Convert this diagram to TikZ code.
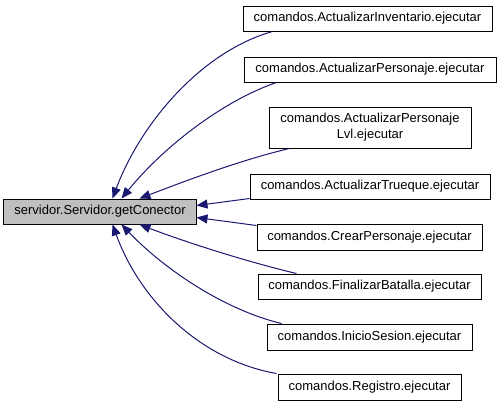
\documentclass[tikz,border=0pt]{standalone}
\usepackage{fontspec}
\setmainfont{Liberation Sans}
\usetikzlibrary{arrows.meta}
\definecolor{edgeblue}{HTML}{191970}
\definecolor{mainfill}{HTML}{BFBFBF}
\tikzset{
  box/.style={draw=black, line width=1bp, fill=white, inner sep=0pt, align=center,
    font=\fontsize{13bp}{16bp}\selectfont},
  mainbox/.style={box, fill=mainfill},
  edge/.style={draw=edgeblue, line width=1bp, -{Triangle[length=11bp,width=9bp]}}
}
\newcommand{\bx}[6]{% name, x1,y1,x2,y2, text
  \node[box, minimum width=#4bp-#2bp, minimum height=#5bp-#3bp] (#1) at ({(#2+#4)/2},{(#3+#5)/2}) {#6};}
\begin{document}
\begin{tikzpicture}[x=1bp,y=-1bp]
\useasboundingbox (0,0) rectangle (501,408);
\node[mainbox, minimum width=192bp, minimum height=25bp] (main) at (100,211.5) {servidor.Servidor.getConector};
\bx{n1}{243}{6}{492}{31}{comandos.ActualizarInventario.ejecutar}
\bx{n2}{244}{57}{496}{82}{comandos.ActualizarPersonaje.ejecutar}
\bx{n3}{269}{107}{471}{148}{comandos.ActualizarPersonaje\\Lvl.ejecutar}
\bx{n4}{250}{174}{490}{199}{comandos.ActualizarTrueque.ejecutar}
\bx{n5}{257}{224}{482}{250}{comandos.CrearPersonaje.ejecutar}
\bx{n6}{258}{274}{481}{299}{comandos.FinalizarBatalla.ejecutar}
\bx{n7}{267}{324}{472}{350}{comandos.InicioSesion.ejecutar}
\bx{n8}{278}{374}{461}{400}{comandos.Registro.ejecutar}
% edges
\draw[edge] ([xshift=30bp]n1.south west) .. controls (200,52) and (140,125) .. ([xshift=109bp]main.north west);
\draw[edge] ([xshift=33bp]n2.south west) .. controls (225,100) and (165,145) .. ([xshift=118bp]main.north west);
\draw[edge] ([xshift=21bp]n3.south west) .. controls (240,160) and (180,183) .. ([xshift=136bp]main.north west);
\draw[edge] ([yshift=1bp]n4.south west) -- ([yshift=6bp]main.east);
\draw[edge] ([yshift=-2bp]n5.north west) -- ([yshift=-6bp]main.east);
\draw[edge] ([xshift=39bp]n6.north west) .. controls (240,260) and (180,240) .. ([xshift=136bp]main.south west);
\draw[edge] ([xshift=15bp]n7.north west) .. controls (225,310) and (165,270) .. ([xshift=118bp]main.south west);
\draw[edge] ([xshift=-1bp]n8.north west) .. controls (200,360) and (140,300) .. ([xshift=109bp]main.south west);
\end{tikzpicture}
\end{document}
